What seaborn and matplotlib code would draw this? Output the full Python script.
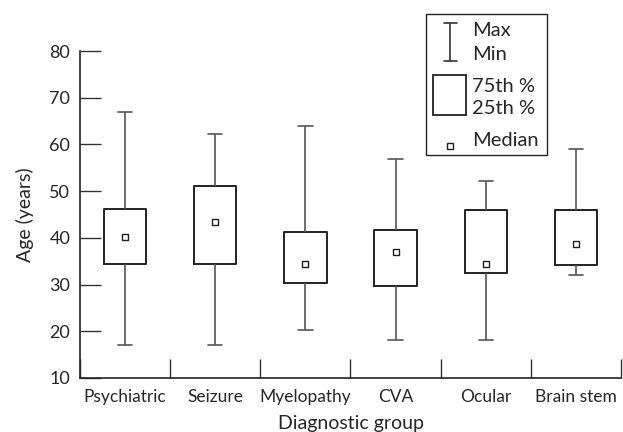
import matplotlib
matplotlib.use("Agg")
import matplotlib.pyplot as plt
import matplotlib.patches as mpatches
import matplotlib.lines as mlines
import seaborn as sns
import numpy as np
import pandas as pd

# Valores (edad en años)
grupos = ["Psychiatric", "Seizure", "Myelopathy", "CVA", "Ocular", "Brain stem"]
minimos = [17, 17, 20.2, 18.2, 18.2, 32.1]
p25 = [34.5, 34.5, 30.4, 29.8, 32.4, 34.1]
medianas = [40.1, 43.4, 34.3, 37.0, 34.3, 38.7]
p75 = [46.1, 51.1, 41.3, 41.6, 46.0, 46.0]
maximos = [67.0, 62.2, 64.0, 56.9, 52.1, 59.1]

# Cinco valores por grupo: los cuartiles de 5 puntos coinciden con min/p25/mediana/p75/max
filas = []
for g, a, b, c, d, e in zip(grupos, minimos, p25, medianas, p75, maximos):
    for v in (a, b, c, d, e):
        filas.append({"grupo": g, "edad": v})
df = pd.DataFrame(filas)
df_med = pd.DataFrame({"grupo": grupos, "mediana": medianas})

sns.set_style("white")
plt.rcParams["font.family"] = ["Lato", "DejaVu Sans"]

W, H = 623, 432
fig = plt.figure(figsize=(W / 100, H / 100), dpi=100)
ax = fig.add_axes([80 / W, 1 - 378 / H, 541 / W, 327 / H])

sns.boxplot(data=df, x="grupo", y="edad", order=grupos, whis=np.inf, width=0.47,
            fill=False, color="#222222", linewidth=1.4, showfliers=False,
            medianprops={"visible": False},
            boxprops={"color": "#222222"},
            whiskerprops={"color": "#555555", "linewidth": 1.2},
            capprops={"color": "#555555", "linewidth": 1.2},
            capwidths=0.16, ax=ax)

sns.scatterplot(data=df_med, x="grupo", y="mediana", marker="s", s=24,
                facecolor="white", edgecolor="#222222", linewidth=1.0,
                zorder=5, ax=ax)

ax.set_xlim(-0.5, 5.5)
ax.set_ylim(10, 80)
ax.set_yticks(range(10, 81, 10))
ax.set_xticks(np.arange(-0.5, 6), minor=True)
ax.tick_params(axis="x", which="major", bottom=True, length=0, pad=8, labelsize=12.5)
ax.tick_params(axis="x", which="minor", bottom=True, length=14, direction="in",
               width=1, color="#333333")
ax.tick_params(axis="y", left=True, length=15, direction="in", width=1, color="#333333",
               labelsize=13, pad=7)
for s in ("top", "right"):
    ax.spines[s].set_visible(False)
for s in ("left", "bottom"):
    ax.spines[s].set_color("#222222")
    ax.spines[s].set_linewidth(1.2)

ax.set_xlabel("Diagnostic group", fontsize=14, labelpad=7)
ax.set_ylabel("Age (years)", fontsize=14, labelpad=11)


# Leyenda dibujada a mano (coordenadas en pixeles de la figura)
def fx(x):
    return x / W


def fy(y):
    return 1 - y / H


fig.add_artist(mpatches.Rectangle((fx(426), fy(155)), fx(547) - fx(426), fy(14) - fy(155),
                                  fill=False, edgecolor="#222222", linewidth=1.0,
                                  transform=fig.transFigure))
fig.add_artist(mlines.Line2D([fx(450), fx(450)], [fy(23), fy(61)], color="#333333", lw=1.2))
fig.add_artist(mlines.Line2D([fx(443.5), fx(456.5)], [fy(23), fy(23)], color="#333333", lw=1.2))
fig.add_artist(mlines.Line2D([fx(443.5), fx(456.5)], [fy(61), fy(61)], color="#333333", lw=1.2))
fig.add_artist(mpatches.Rectangle((fx(433), fy(115)), fx(466) - fx(433), fy(75) - fy(115),
                                  fill=False, edgecolor="#222222", linewidth=1.3,
                                  transform=fig.transFigure))
fig.add_artist(mlines.Line2D([fx(450)], [fy(146)], marker="s", markersize=4.5,
                             markerfacecolor="white", markeredgecolor="#222222",
                             markeredgewidth=1.0, linestyle="none"))
for texto, y in [("Max", 31), ("Min", 54), ("75th %", 86), ("25th %", 108), ("Median", 140)]:
    fig.text(fx(472), fy(y), texto, fontsize=14.5, va="center", ha="left")

fig.savefig("out.png", dpi=100)
